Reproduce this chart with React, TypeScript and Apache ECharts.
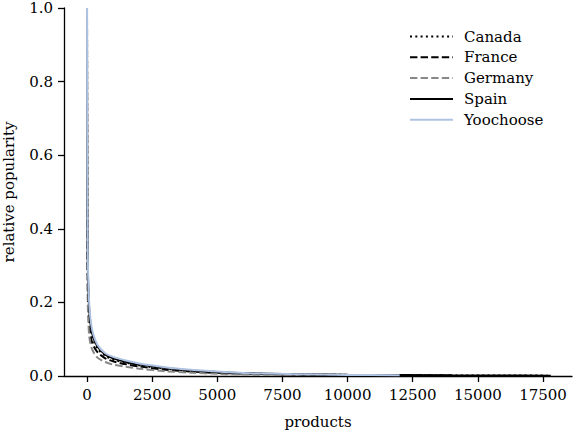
import * as echarts from "echarts";
import { useEffect, useRef } from "react";

// product rank (x) and relative popularity (y)
const ranks = [0, 10, 25, 50, 100, 200, 400, 700, 1000, 1500, 2000, 3000, 4000, 5000, 6000, 8000, 10000, 12000, 14000, 16000, 17800];

const canada = [1.0, 0.48, 0.31, 0.22, 0.155, 0.108, 0.075, 0.055, 0.045, 0.036, 0.029, 0.02, 0.014, 0.01, 0.007, 0.0045, 0.003, 0.0022, 0.0016, 0.0012, 0.001];
const france = [1.0, 0.42, 0.27, 0.19, 0.13, 0.09, 0.065, 0.048, 0.04, 0.032, 0.026, 0.017, 0.012, 0.0085, 0.0065, 0.004, 0.0028, 0.002, 0.0015];
const germany = [1.0, 0.36, 0.22, 0.15, 0.1, 0.072, 0.05, 0.038, 0.031, 0.025, 0.02, 0.013, 0.009, 0.006, 0.004, 0.0025];
const spain = [1.0, 0.5, 0.33, 0.24, 0.165, 0.115, 0.08, 0.058, 0.048, 0.038, 0.031, 0.022, 0.015, 0.011, 0.008, 0.005, 0.0035, 0.0025, 0.0018, 0.0013, 0.001];
const yoochoose = [1.0, 0.55, 0.36, 0.26, 0.18, 0.125, 0.085, 0.062, 0.052, 0.042, 0.034, 0.024, 0.017, 0.012, 0.008, 0.005, 0.003, 0.002];

const xTicks = [0, 2500, 5000, 7500, 10000, 12500, 15000, 17500];

const FONT = "DejaVu Serif";

const pair = (ys: number[]) => ys.map((y, i) => [ranks[i], y]);

function getOption() {
  const line = (
    name: string,
    ys: number[],
    color: string,
    type: "solid" | number[],
  ) => ({
    name,
    type: "line",
    data: pair(ys),
    symbol: "none",
    smooth: 0.3,
    lineStyle: { color, width: 2, type },
    itemStyle: { color },
  });

  return {
    animation: false,
    backgroundColor: "#fff",
    grid: {
      left: 64,
      top: 8,
      width: 508,
      height: 368,
      containLabel: false,
      outerBoundsMode: "none",
    },
    legend: {
      orient: "vertical",
      left: 404,
      top: 22.5,
      itemWidth: 43,
      itemHeight: 10,
      itemGap: 2.8,
      itemStyle: { opacity: 0 },
      textStyle: {
        fontFamily: FONT,
        fontSize: 15,
        lineHeight: 18,
        color: "#000",
        padding: [0, 0, 0, 6],
      },
      data: ["Canada", "France", "Germany", "Spain", "Yoochoose"],
    },
    xAxis: {
      type: "value",
      min: -883,
      max: 18613,
      name: "products",
      nameLocation: "middle",
      nameGap: 38,
      nameTextStyle: { fontFamily: FONT, fontSize: 15, color: "#000" },
      splitLine: { show: false },
      axisLine: { onZero: false, lineStyle: { color: "#000", width: 1.3 } },
      axisTick: { inside: false, length: 6, customValues: xTicks, lineStyle: { color: "#000", width: 1.3 } },
      axisLabel: {
        customValues: xTicks,
        fontFamily: FONT,
        fontSize: 15,
        color: "#000",
        margin: 11,
        formatter: (v: number) => String(v),
      },
    },
    yAxis: {
      type: "value",
      min: 0,
      max: 1,
      interval: 0.2,
      name: "relative popularity",
      nameLocation: "middle",
      nameGap: 48,
      nameTextStyle: { fontFamily: FONT, fontSize: 15, color: "#000" },
      splitLine: { show: false },
      axisLine: { show: true, onZero: false, lineStyle: { color: "#000", width: 1.3 } },
      axisTick: { show: true, inside: false, length: 6, lineStyle: { color: "#000", width: 1.3 } },
      axisLabel: {
        fontFamily: FONT,
        fontSize: 15,
        color: "#000",
        margin: 11,
        formatter: (v: number) => v.toFixed(1),
      },
    },
    series: [
      line("Canada", canada, "#000", [2, 3.3]),
      line("France", france, "#000", [7.4, 3.2]),
      line("Germany", germany, "#888", [7.4, 3.2]),
      line("Spain", spain, "#000", "solid"),
      line("Yoochoose", yoochoose, "#aec3e2", "solid"),
    ],
  };
}

const App = () => {
  const containerRef = useRef<HTMLDivElement>(null);

  useEffect(() => {
    if (!containerRef.current) return;
    const chart = echarts.init(containerRef.current, undefined, { renderer: "svg" });
    chart.setOption(getOption() as any);
    return () => {
      chart.dispose();
    };
  }, []);

  return (
    <div
      ref={containerRef}
      style={{ position: "fixed", left: 0, top: 0, width: 574, height: 430 }}
    />
  );
};

export default App;
